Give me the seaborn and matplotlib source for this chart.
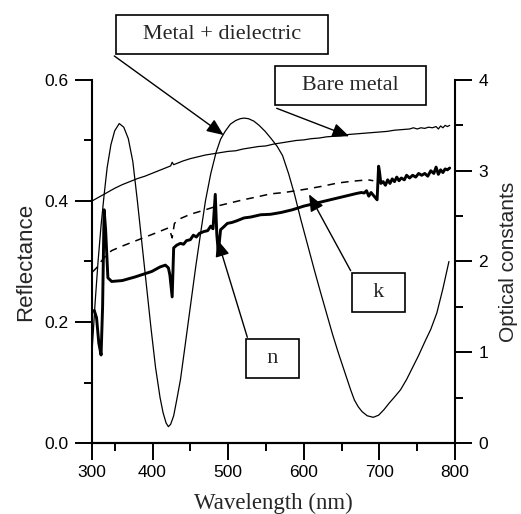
import matplotlib
matplotlib.use("Agg")
import matplotlib.pyplot as plt
import seaborn as sns

sns.set_theme(style="ticks")
plt.rcParams['font.family'] = ['Liberation Sans', 'DejaVu Sans']

# Reflectance of the bare metal (left axis)
wl_bare = [320, 330, 340, 350, 360, 370, 380, 390, 400, 410, 420, 424, 426, 428, 440, 450,
           460, 470, 480, 490, 500, 510, 520, 530, 540, 550, 560, 570, 580, 590, 600, 610,
           620, 630, 640, 650, 660, 670, 680, 690, 700, 710, 720, 730, 740, 745, 750, 755,
           760, 765, 770, 775, 778, 781, 784, 787, 790, 793]
refl_bare = [0.400, 0.407, 0.414, 0.421, 0.427, 0.432, 0.437, 0.441, 0.446, 0.451, 0.456, 0.458,
             0.464, 0.460, 0.466, 0.470, 0.473, 0.476, 0.478, 0.480, 0.482, 0.483, 0.486, 0.488,
             0.490, 0.491, 0.494, 0.496, 0.498, 0.500, 0.501, 0.503, 0.504, 0.506, 0.507, 0.508,
             0.510, 0.511, 0.512, 0.513, 0.514, 0.515, 0.517, 0.518, 0.519, 0.521, 0.519, 0.521,
             0.520, 0.522, 0.521, 0.523, 0.519, 0.524, 0.521, 0.525, 0.523, 0.525]

# Reflectance of metal + dielectric (left axis)
wl_md = [320, 324, 328, 332, 336, 340, 345, 350, 356, 362, 368, 374, 380, 386, 392, 398, 404,
         410, 414, 418, 421, 424, 428, 432, 437, 443, 450, 457, 464, 470, 477, 484, 490, 496,
         503, 510, 516, 521, 527, 534, 541, 549, 557, 565, 572, 580, 588, 596, 605, 614, 622,
         630, 638, 646, 654, 662, 667, 672, 677, 684, 692, 699, 706, 713, 720, 728, 736, 744,
         752, 760, 768, 776, 784, 792]
refl_md = [0.15, 0.23, 0.30, 0.36, 0.41, 0.455, 0.493, 0.516, 0.528, 0.522, 0.503, 0.465, 0.40,
           0.33, 0.26, 0.19, 0.125, 0.075, 0.05, 0.033, 0.027, 0.031, 0.045, 0.071, 0.105, 0.16,
           0.225, 0.29, 0.35, 0.40, 0.445, 0.48, 0.502, 0.515, 0.527, 0.533, 0.536, 0.537, 0.536,
           0.532, 0.525, 0.515, 0.503, 0.49, 0.475, 0.445, 0.41, 0.37, 0.328, 0.286, 0.25, 0.215,
           0.18, 0.148, 0.118, 0.088, 0.071, 0.06, 0.052, 0.045, 0.0425, 0.046, 0.055, 0.066,
           0.076, 0.088, 0.105, 0.125, 0.145, 0.167, 0.188, 0.215, 0.255, 0.30]

# Optical constant n (right axis)
wl_n = [320, 323, 326, 329, 332, 334, 336, 338, 341, 346, 360, 377, 399, 410, 417, 421, 423,
        426, 428, 432, 437, 441, 445, 450, 454, 458, 462, 468, 473, 477, 480, 483, 485, 487,
        490, 494, 499, 505, 512, 521, 530, 543, 556, 570, 585, 600, 615, 630, 645, 660, 670,
        676, 680, 683, 686, 689, 692, 695, 697, 699, 700, 702, 705, 708, 711, 714, 717, 720,
        723, 726, 729, 733, 736, 740, 744, 748, 752, 756, 760, 764, 768, 772, 775, 778, 781,
        784, 787, 790, 793]
n_vals = [1.45, 1.46, 1.38, 1.10, 0.97, 1.50, 2.57, 2.35, 1.82, 1.78, 1.79, 1.83, 1.89, 1.94,
          1.96, 1.93, 1.85, 1.61, 2.15, 2.18, 2.20, 2.19, 2.23, 2.24, 2.29, 2.27, 2.31, 2.33,
          2.34, 2.39, 2.36, 2.74, 2.30, 2.10, 2.35, 2.38, 2.42, 2.43, 2.45, 2.48, 2.49, 2.515,
          2.52, 2.54, 2.57, 2.61, 2.64, 2.67, 2.70, 2.73, 2.75, 2.76, 2.755, 2.78, 2.72, 2.76,
          2.73, 2.70, 2.68, 3.05, 3.00, 2.86, 2.88, 2.84, 2.90, 2.86, 2.91, 2.88, 2.93, 2.89,
          2.92, 2.90, 2.95, 2.92, 2.95, 2.93, 2.97, 2.95, 2.97, 2.94, 3.00, 2.97, 3.04, 2.96,
          3.01, 2.98, 3.02, 3.01, 3.03]

# Optical constant k (right axis)
wl_k = [320, 326, 332, 340, 346, 360, 380, 400, 415, 421, 423, 426, 429, 436, 450, 470, 485,
        500, 520, 540, 556, 574, 590, 605, 625, 645, 665, 685, 692]
k_vals = [1.88, 1.93, 2.00, 2.08, 2.12, 2.17, 2.235, 2.30, 2.35, 2.37, 2.34, 2.26, 2.42, 2.47,
          2.52, 2.57, 2.61, 2.64, 2.68, 2.715, 2.745, 2.76, 2.78, 2.80, 2.83, 2.865, 2.885, 2.90,
          2.89]

x_ticks = [320, 400, 500, 600, 700, 800]
x_tick_labels = ["300", "400", "500", "600", "700", "800"]

fig = plt.figure(figsize=(5.21, 5.14), dpi=100)
ax = fig.add_subplot(111)
fig.subplots_adjust(left=0.1766, right=0.8733, bottom=0.1381, top=0.8444)
ax2 = ax.twinx()

sns.lineplot(x=wl_bare, y=refl_bare, ax=ax, color="black", lw=0.9, sort=False, estimator=None)
sns.lineplot(x=wl_md, y=refl_md, ax=ax, color="black", lw=0.9, sort=False, estimator=None)
sns.lineplot(x=wl_n, y=n_vals, ax=ax2, color="black", lw=2.1, sort=False, estimator=None)
sns.lineplot(x=wl_k, y=k_vals, ax=ax2, color="black", lw=1.1, sort=False, estimator=None,
             linestyle=(0, (5, 4)))

ax.set_xlim(320, 800)
ax.set_ylim(0, 0.6)
ax2.set_ylim(0, 4)
ax.set_xticks(x_ticks)
ax.set_xticklabels(x_tick_labels)
ax.set_xticks([350, 450, 550, 650, 750], minor=True)
ax.set_yticks([0, 0.2, 0.4, 0.6])
ax.set_yticklabels(["0.0", "0.2", "0.4", "0.6"])
ax.set_yticks([0.1, 0.3, 0.5], minor=True)
ax2.set_yticks([0, 1, 2, 3, 4])
ax2.set_yticks([0.5, 1.5, 2.5, 3.5], minor=True)

for a in (ax, ax2):
    a.spines["top"].set_visible(False)
    for s in a.spines.values():
        s.set_linewidth(1.5)
        s.set_color("black")
    a.tick_params(which="major", direction="out", length=12, width=1.4, colors="black",
                  labelsize=12.5, pad=5)
    a.tick_params(which="minor", direction="out", length=6, width=1.4, colors="black")
ax.spines["right"].set_visible(False)
ax2.spines["left"].set_visible(False)
ax.tick_params(axis="x", which="major", pad=4)

ax.set_ylabel("Reflectance", fontsize=16, labelpad=6)
ax2.set_ylabel("Optical constants", fontsize=15, labelpad=8)
ax.set_xlabel("Wavelength (nm)", fontsize=16.5, family=["Liberation Serif", "DejaVu Serif"],
              labelpad=9)

box = dict(boxstyle="square,pad=0.45", fc="white", ec="black", lw=1.2)
arrow = dict(arrowstyle="-|>,head_length=0.85,head_width=0.36", mutation_scale=12,
             color="black", lw=1.0, shrinkA=0, shrinkB=0)
serif = ["Liberation Serif", "DejaVu Serif"]

labels = [
    ("   Metal + dielectric   ", (0.4257, 0.9335), (0.2194, 0.8911), (494, 0.509), ax.transData),
    ("   Bare metal   ", (0.6724, 0.8331), (0.5311, 0.7893), (660, 0.507), ax.transData),
    ("  k  ", (0.7269, 0.4319), (0.6731, 0.4733), (607, 2.74), ax2.transData),
    ("  n  ", (0.5230, 0.3016), (0.4747, 0.3438), (486, 2.24), ax2.transData),
]
for text, center, start, tip, trans in labels:
    ax2.annotate("", xy=tip, xycoords=trans, xytext=start, textcoords="figure fraction",
                 arrowprops=arrow, annotation_clip=False)
    fig.text(center[0], center[1], text, ha="center", va="center", fontsize=16,
             family=serif, bbox=box, zorder=5)

fig.savefig("out.png", dpi=100)
